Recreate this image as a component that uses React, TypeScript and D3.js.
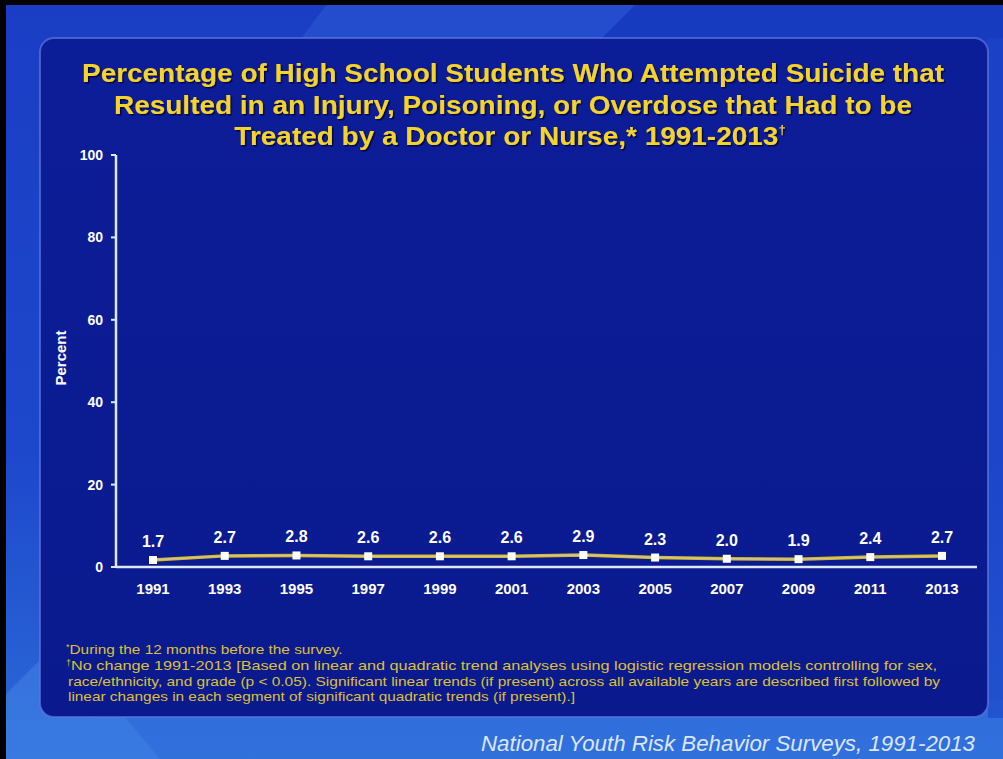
import React from "react";
import * as d3 from "d3";

const years = [1991, 1993, 1995, 1997, 1999, 2001, 2003, 2005, 2007, 2009, 2011, 2013];
const values = [1.7, 2.7, 2.8, 2.6, 2.6, 2.6, 2.9, 2.3, 2.0, 1.9, 2.4, 2.7];
const yTicks = [0, 20, 40, 60, 80, 100];
const titleLines = [
  "Percentage of High School Students Who Attempted Suicide that",
  "Resulted in an Injury, Poisoning, or Overdose that Had to be",
  "Treated by a Doctor or Nurse,* 1991-2013",
];
const footnote1 = "During the 12 months before the survey.";
const footnote2 = [
  "No change 1991-2013 [Based on linear and quadratic trend analyses using logistic regression models controlling for sex,",
  "race/ethnicity, and grade (p < 0.05). Significant linear trends (if present) across all available years are described first followed by",
  "linear changes in each segment of significant quadratic trends (if present).]",
];
const source = "National Youth Risk Behavior Surveys, 1991-2013";

export default function App() {
  const W = 1003, H = 759;
  const x = d3.scaleLinear().domain([1991, 2013]).range([153, 942]);
  const y = d3.scaleLinear().domain([0, 100]).range([567, 155]);
  const line = d3.line<number>().x((_, i) => x(years[i])).y((v) => y(v));
  const path = line(values) || "";
  const font = "Arial, 'Liberation Sans', sans-serif";
  const titleFill = "#f4d42a";
  const footFill = "#dcc038";
  const titleWidths = [862, 798, 544];
  const footWidths = [866, 872, 507];

  return (
    <svg width={W} height={H} style={{ position: "absolute", left: 0, top: 0 }} fontFamily={font}>
      <defs>
        <linearGradient id="bg" x1="0" y1="0" x2="0" y2="1">
          <stop offset="0" stopColor="#1a3dc4" />
          <stop offset="0.6" stopColor="#1d48cc" />
          <stop offset="1" stopColor="#2c6ad8" />
        </linearGradient>
        <linearGradient id="panel" x1="0" y1="0" x2="0" y2="1">
          <stop offset="0" stopColor="#0c1d98" />
          <stop offset="1" stopColor="#0a1a8e" />
        </linearGradient>
        <filter id="shadow" x="-5%" y="-20%" width="110%" height="140%">
          <feDropShadow dx="1.5" dy="1.5" stdDeviation="0.6" floodColor="#000030" floodOpacity="0.8" />
        </filter>
      </defs>
      <rect x={0} y={0} width={W} height={H} fill="url(#bg)" />
      <polygon points="330,0 640,0 600,40 300,40" fill="#3a6ae0" opacity={0.35} />
      <polygon points="640,0 1003,0 1003,40 600,40" fill="#1538b8" opacity={0.4} />
      <polygon points="0,700 60,640 160,759 0,759" fill="#4a8ae8" opacity={0.45} />
      <polygon points="0,720 1003,700 1003,759 0,759" fill="#3a7ee4" opacity={0.35} />
      <rect x={988} y={38} width={15} height={680} fill="#1c45c8" opacity={0.6} />
      <rect x={40} y={38} width={948} height={679} rx={14} ry={14} fill="url(#panel)" stroke="#5a78e0" strokeOpacity={0.7} strokeWidth={2} />
      <rect x={0} y={0} width={W} height={5} fill="#000" />
      <rect x={0} y={0} width={6} height={H} fill="#000" />

      <g filter="url(#shadow)" fill={titleFill} fontWeight="bold" fontSize={26} textAnchor="middle">
        {titleLines.map((t, i) => (
          <text key={i} x={i === 2 ? 510 : 513} y={82 + i * 31.5}>
            <tspan textLength={titleWidths[i]} lengthAdjust="spacingAndGlyphs">{t}</tspan>
            {i === 2 ? <tspan fontSize={13} dy={-11}>†</tspan> : null}
          </text>
        ))}
      </g>

      <line x1={116} x2={116} y1={y(0)} y2={y(100)} stroke="#dfe8ff" strokeWidth={2.5} />
      <line x1={116} x2={977} y1={y(0)} y2={y(0)} stroke="#dfe8ff" strokeWidth={2.5} />
      {yTicks.map((t) => (
        <g key={t}>
          <line x1={111} x2={116} y1={y(t)} y2={y(t)} stroke="#dfe8ff" strokeWidth={2} />
          <text x={103} y={y(t) + 5} textAnchor="end" fill="#fff" fontWeight="bold" fontSize={14}>
            {t}
          </text>
        </g>
      ))}
      <text transform={`translate(66,358) rotate(-90)`} textAnchor="middle" fill="#fff" fontWeight="bold" fontSize={15}>
        Percent
      </text>
      {years.map((yr) => (
        <text key={yr} x={x(yr)} y={594} textAnchor="middle" fill="#fff" fontWeight="bold" fontSize={15}>
          {yr}
        </text>
      ))}

      <path d={path} fill="none" stroke="#d9b81c" strokeWidth={3.5} />
      <path d={path} fill="none" stroke="#c8c8c0" strokeWidth={1.4} opacity={0.8} />
      {values.map((v, i) => (
        <rect key={i} x={x(years[i]) - 4} y={y(v) - 4} width={8} height={8} fill="#ffffff" />
      ))}
      {values.map((v, i) => (
        <text key={i} x={x(years[i])} y={y(v) - 13} textAnchor="middle" fill="#fff" fontWeight="bold" fontSize={16}>
          {v.toFixed(1)}
        </text>
      ))}

      <g fill={footFill} fontSize={13}>
        <text x={66} y={654}>
          <tspan fontSize={9} dy={-4}>*</tspan>
          <tspan dy={4} textLength={273} lengthAdjust="spacingAndGlyphs">{footnote1}</tspan>
        </text>
        {footnote2.map((t, i) => (
          <text key={i} x={i === 0 ? 66 : 68} y={670 + i * 15.5}>
            {i === 0 ? <tspan fontSize={9} dy={-4}>†</tspan> : null}
            <tspan dy={i === 0 ? 4 : 0} textLength={footWidths[i]} lengthAdjust="spacingAndGlyphs">{t}</tspan>
          </text>
        ))}
      </g>

      <text x={975} y={751} textAnchor="end" fill="#dce6ff" fontStyle="italic" fontSize={21.5} textLength={494} lengthAdjust="spacingAndGlyphs">
        {source}
      </text>
    </svg>
  );
}
